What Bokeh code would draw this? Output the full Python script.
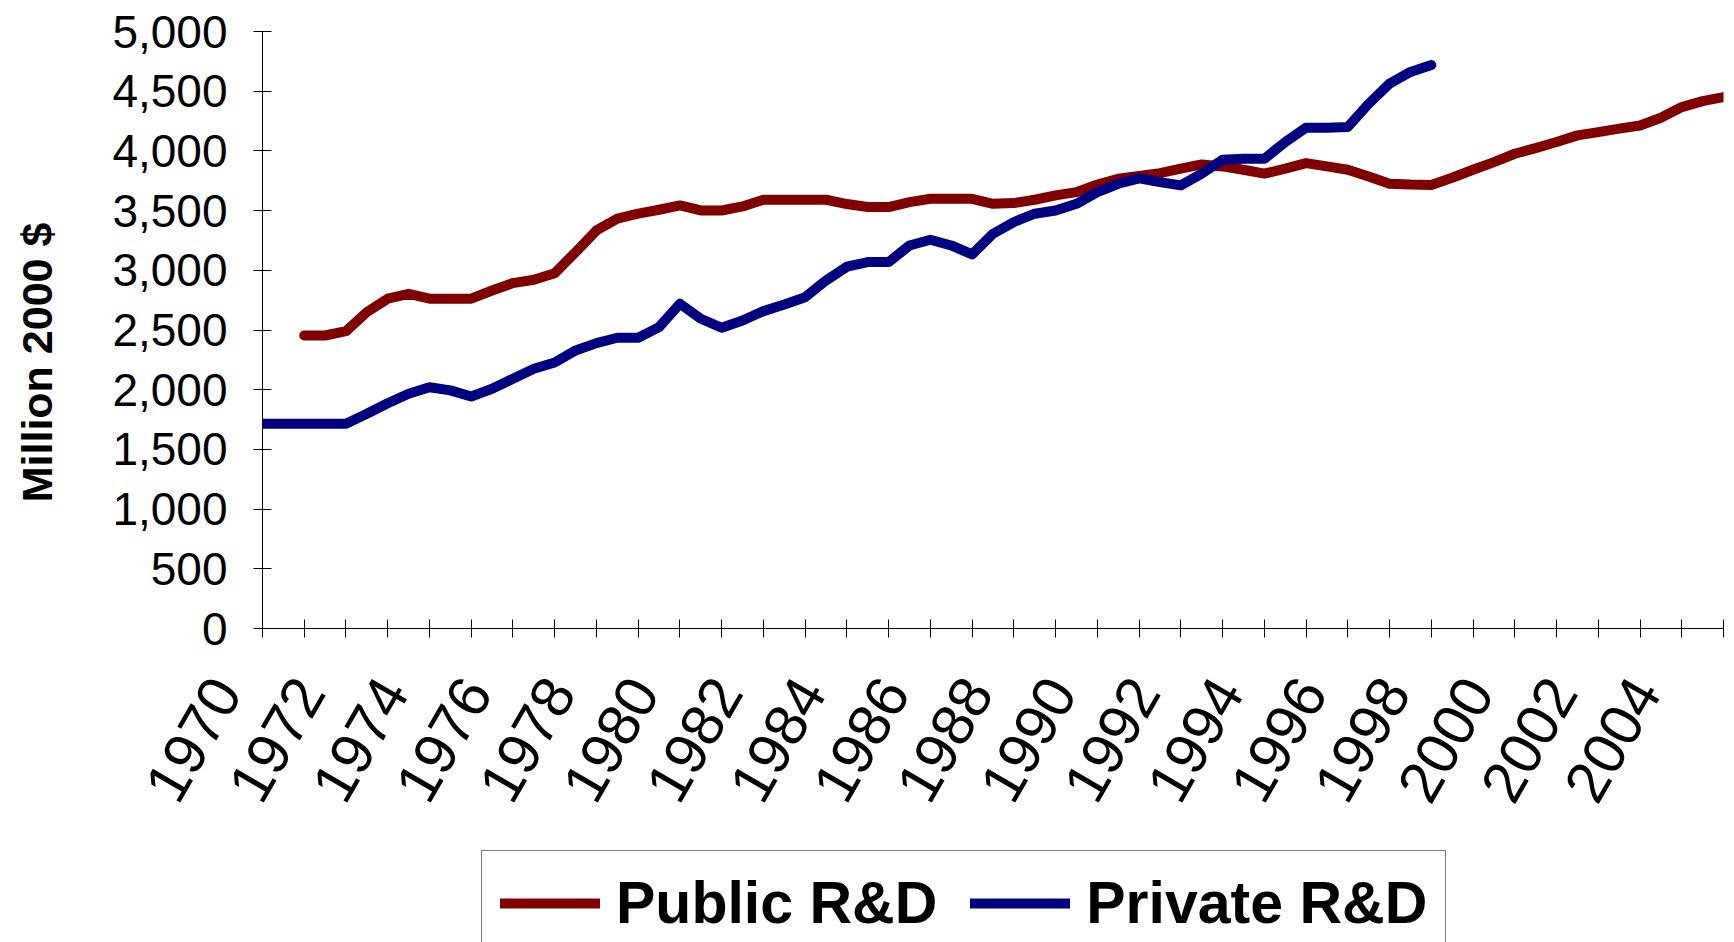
import math
from bokeh.plotting import figure
from bokeh.layouts import column, row
from bokeh.models import (Range1d, FixedTicker, NumeralTickFormatter, Legend,
                          LegendItem, Label)
from bokeh.embed import file_html
from bokeh.resources import INLINE

# ---- data (half-year resolution) ----
private_start = 1970
private_rd = [1715, 1715, 1715, 1715, 1715, 1798, 1887, 1966, 2021, 1994,
              1943, 2008, 2092, 2175, 2228, 2329, 2390, 2435, 2435, 2524,
              2720, 2594, 2519, 2580, 2658, 2714, 2775, 2915, 3030, 3069,
              3069, 3208, 3256, 3208, 3133, 3306, 3404, 3474, 3501, 3557,
              3655, 3725, 3770, 3739, 3711, 3809, 3926, 3934, 3934, 4074,
              4194, 4194, 4200, 4395, 4563, 4661, 4720]
public_start = 1971
public_rd = [2454, 2454, 2490, 2650, 2762, 2803, 2762, 2762, 2762, 2831,
             2893, 2921, 2975, 3152, 3334, 3432, 3474, 3507, 3543, 3501,
             3501, 3535, 3591, 3591, 3591, 3591, 3555, 3530, 3530, 3571,
             3599, 3599, 3599, 3557, 3563, 3591, 3627, 3655, 3719, 3767,
             3790, 3814, 3851, 3887, 3870, 3842, 3809, 3851, 3898, 3870,
             3842, 3786, 3725, 3718, 3715, 3775, 3842, 3906, 3976, 4023,
             4074, 4130, 4157, 4186, 4213, 4278, 4367, 4417, 4451]
private_x = [private_start + i / 2 for i in range(len(private_rd))]
public_x = [public_start + i / 2 for i in range(len(public_rd))]

labelled_years = list(range(1970, 2005, 2))
all_years = list(range(1970, 2006))
y_ticks = list(range(0, 5001, 500))
series_names = ["Public R&D", "Private R&D"]
y_title = "Million 2000 $"

FONT = "Liberation Sans"

# ---- geometry (page pixels) ----
TW = 70                          # strip holding the y title
RIGHT_W = 1734 - TW
TOP_H = 840                      # plot + x labels
P_H = 662                        # main plot
XL_H = TOP_H - P_H               # x label strip
FRAME_L, FRAME_R = 262, 1723
FRAME_T, FRAME_B = 31, 628
XL_FRAME_L = 225                 # label strip frame starts a bit further left
LABEL_SHIFT = 0.875              # years: labels sit a bit left of their tick

p = figure(width=RIGHT_W, height=P_H, output_backend="svg",
           toolbar_location=None,
           x_range=Range1d(1970, 2005), y_range=Range1d(0, 5000),
           min_border_left=FRAME_L - TW, min_border_right=1734 - FRAME_R,
           min_border_top=FRAME_T, min_border_bottom=P_H - FRAME_B)
p.outline_line_color = None
p.grid.visible = False
p.background_fill_color = "white"
p.border_fill_color = "white"

r_pub = p.line(public_x, public_rd, line_color="#800000", line_width=10,
               line_cap="round", line_join="round")
r_priv = p.line(private_x, private_rd, line_color="#000080", line_width=10,
                line_cap="round", line_join="round")

# x axis: line + yearly ticks (labels are drawn in the strip below)
xa = p.xaxis[0]
xa.ticker = FixedTicker(ticks=all_years)
xa.major_label_text_font_size = "1px"
xa.major_label_text_alpha = 0
xa.major_label_standoff = 0
xa.major_tick_in = 9
xa.major_tick_out = 9
xa.minor_tick_line_color = None
xa.major_tick_line_color = "black"
xa.axis_line_color = "black"

ya = p.yaxis[0]
ya.ticker = FixedTicker(ticks=y_ticks)
ya.formatter = NumeralTickFormatter(format="0,0")
ya.major_label_text_font = FONT
ya.major_label_text_font_size = "46px"
ya.major_label_text_color = "black"
ya.major_tick_in = 9
ya.major_tick_out = 9
ya.minor_tick_line_color = None
ya.major_tick_line_color = "black"
ya.axis_line_color = "black"
ya.major_label_standoff = 26

# ---- x label strip: same year scale as the plot, frame extended left ----
W = FRAME_R - XL_FRAME_L
d = FRAME_L - XL_FRAME_L
x_start = (W * 1970 - d * 2005) / (W - d)
xlab = figure(width=RIGHT_W, height=XL_H, output_backend="svg",
              toolbar_location=None, title=None, y_axis_type=None,
              x_range=Range1d(x_start, 2005), y_range=Range1d(0, 1),
              min_border_left=XL_FRAME_L - TW, min_border_right=1734 - FRAME_R,
              min_border_top=0, min_border_bottom=XL_H - 4)
xlab.frame_align = False
xlab.outline_line_color = None
xlab.grid.visible = False
label_pos = [yr - LABEL_SHIFT for yr in labelled_years]
xl = xlab.xaxis[0]
xl.ticker = FixedTicker(ticks=label_pos)
xl.major_label_overrides = {pos: str(yr) for pos, yr in zip(label_pos, labelled_years)}
xl.axis_line_color = None
xl.major_tick_line_color = None
xl.minor_tick_line_color = None
xl.major_tick_in = 0
xl.major_tick_out = 0
xl.major_label_orientation = math.radians(60)
xl.major_label_text_font = FONT
xl.major_label_text_font_size = "59px"
xl.major_label_text_color = "black"
xl.major_label_standoff = 16

# ---- y title strip (shares the y scale of the main plot) ----
tfig = figure(width=TW, height=TOP_H, output_backend="svg",
              toolbar_location=None, title=None, x_axis_type=None,
              y_axis_type=None, x_range=Range1d(0, 1), y_range=p.y_range,
              min_border_left=0, min_border_right=0,
              min_border_top=FRAME_T, min_border_bottom=TOP_H - FRAME_B)
tfig.outline_line_color = None
tfig.grid.visible = False
TITLE_Y = 2228           # vertical centre of the title, in y-axis units
tfig.add_layout(Label(x=36, y=TITLE_Y, x_units="screen", y_units="data",
                      text=y_title, angle=math.pi / 2, text_align="center",
                      text_baseline="middle", text_font=FONT,
                      text_font_size="43px", text_font_style="bold",
                      text_color="black"))

# ---- legend strip ----
LH = 942 - TOP_H
lfig = figure(width=1734, height=LH, output_backend="svg",
              toolbar_location=None, title=None, x_axis_type=None,
              y_axis_type=None, x_range=Range1d(0, 1), y_range=Range1d(0, 1),
              min_border=0)
lfig.outline_line_color = None
lfig.grid.visible = False
# legend proxies (kept outside the visible range of this strip)
g_pub = lfig.line(x=[5, 6], y=[5, 5], line_color="#800000", line_width=10,
                  line_cap="round", line_join="round")
g_priv = lfig.line(x=[5, 6], y=[5, 5], line_color="#000080", line_width=10,
                   line_cap="round", line_join="round")
legend = Legend(items=[LegendItem(label=series_names[0], renderers=[g_pub]),
                       LegendItem(label=series_names[1], renderers=[g_priv])],
                orientation="horizontal", location=(481, -14),
                label_text_font=FONT, label_text_font_size="59px",
                label_text_font_style="bold", label_text_color="black",
                glyph_width=100, glyph_height=20, label_standoff=16,
                spacing=33, padding=18, margin=0,
                border_line_color="black", border_line_width=1,
                background_fill_color="white", background_fill_alpha=1.0)
lfig.add_layout(legend)

layout = column(row(tfig, column(p, xlab)), lfig)
open("out.html", "w").write(file_html(layout, INLINE))
